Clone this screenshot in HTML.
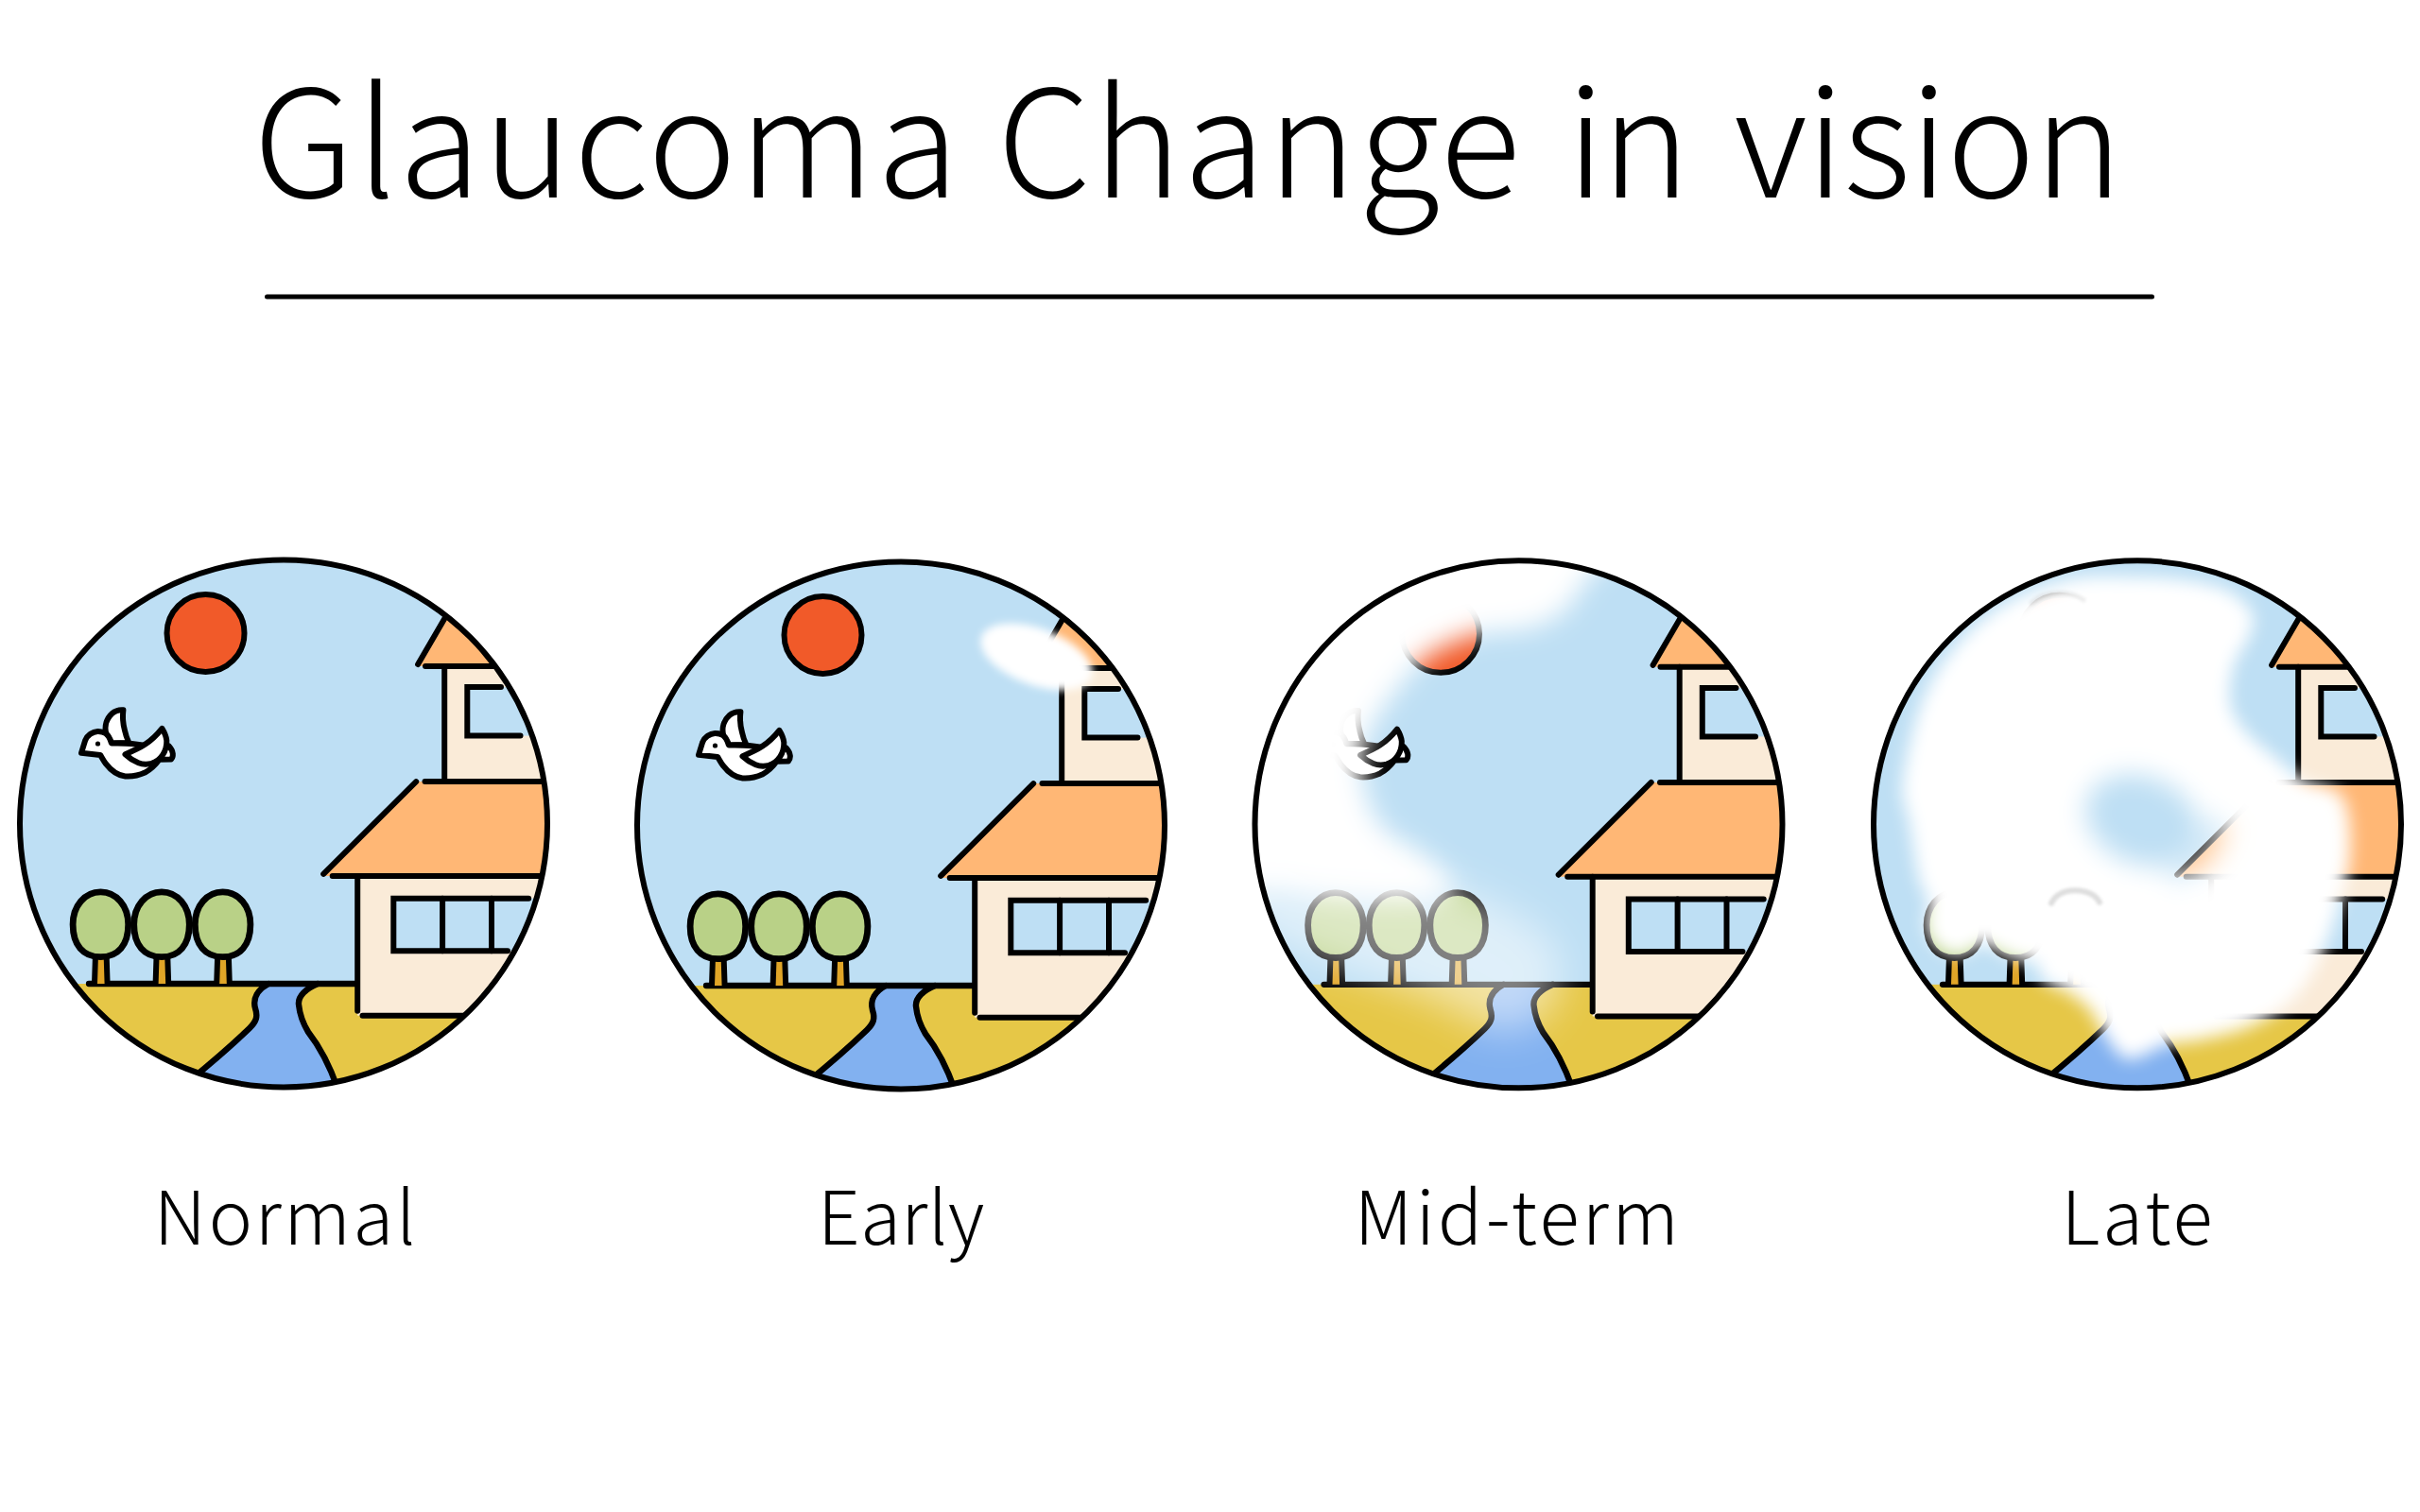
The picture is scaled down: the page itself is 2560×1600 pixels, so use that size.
<!DOCTYPE html>
<html lang="en">
<head>
<meta charset="utf-8">
<title>Glaucoma Change in vision</title>
<style>
html,body{margin:0;padding:0;background:#fff;}
body{width:2560px;height:1600px;overflow:hidden;}
svg{display:block;}
text{font-family:"Noto Sans CJK JP","Liberation Sans",sans-serif;font-weight:300;fill:#000;}
.k{stroke:#000;stroke-width:6;stroke-linecap:round;stroke-linejoin:miter;fill:none;}
</style>
</head>
<body>
<svg width="2560" height="1600" viewBox="0 0 2560 1600">
<defs>
<clipPath id="cc"><circle cx="300" cy="871.5" r="279"/></clipPath>
<filter id="b2" filterUnits="userSpaceOnUse" x="-100" y="460" width="820" height="820"><feGaussianBlur stdDeviation="1.6"/></filter>
<filter id="b4" filterUnits="userSpaceOnUse" x="-100" y="460" width="820" height="820"><feGaussianBlur stdDeviation="4"/></filter>
<filter id="b9" filterUnits="userSpaceOnUse" x="-100" y="460" width="820" height="820"><feGaussianBlur stdDeviation="9"/></filter>
<filter id="b14" filterUnits="userSpaceOnUse" x="-100" y="460" width="820" height="820"><feGaussianBlur stdDeviation="14"/></filter>
<filter id="b20" filterUnits="userSpaceOnUse" x="-100" y="460" width="820" height="820"><feGaussianBlur stdDeviation="20"/></filter>

<g id="tree">
  <path d="M100,1041 L101,1010 L112.6,1010 L113.6,1041" fill="#E0A527" class="k" style="fill:#E0A527"/>
  <path d="M106.4,943.9 C123.1,943.9 135.7,958.7 135.7,978.3 C135.7,1000.0 124.9,1012.7 106.4,1012.7 C87.9,1012.7 77.1,1000.0 77.1,978.3 C77.1,958.7 89.7,943.9 106.4,943.9 Z" class="k" style="fill:#B9D187;stroke-width:6.8"/>
</g>

<g id="scene">
  <!-- sky -->
  <rect x="0" y="560" width="620" height="620" fill="#BEDFF4"/>
  <!-- ground -->
  <rect x="0" y="1041" width="620" height="140" fill="#E6C747"/>
  <!-- river -->
  <path d="M284,1041 C273,1047 267,1056 270,1067 C273,1076 271,1081 264,1088 Q238,1113 200,1144 L363,1170 C353,1135 340,1110 326,1092 C320,1082 317,1073 316,1063 C315,1054 324,1046 336,1041 Z" fill="#82B1F0"/>
  <path class="k" style="stroke-width:6.4" d="M284,1041 C273,1047 267,1056 270,1067 C273,1076 271,1081 264,1088 Q238,1113 200,1144"/>
  <path class="k" style="stroke-width:6.4" d="M336,1041 C324,1046 315,1054 316,1063 C317,1073 320,1082 326,1092 C340,1110 353,1135 363,1170"/>
  <path class="k" style="stroke-width:6.3" d="M94,1041 L378,1041"/>
  <!-- house: upper roof -->
  <path d="M441,705 L500,604 L620,604 L620,705 Z" fill="#FFB775"/>
  <path class="k" d="M442.1,703 L490,620.8"/>
  <!-- upper wall -->
  <rect x="470.2" y="705" width="150" height="122" fill="#FAEBD8"/>
  <rect x="494.3" y="727.1" width="130" height="51.5" fill="#BEDFF4"/>
  <path class="k" d="M450,705 L620,705"/>
  <path class="k" d="M470.2,705 L470.2,827"/>
  <path class="k" d="M530,727.1 L494.3,727.1 L494.3,778.6 L550.5,778.6"/>
  <!-- lower roof -->
  <path d="M440.2,827.1 L620,827.1 L620,927 L340.1,927 Z" fill="#FFB775"/>
  <!-- lower wall -->
  <rect x="378.2" y="927" width="250" height="147.7" fill="#FAEBD8"/>
  <rect x="416.3" y="950.7" width="210" height="55.6" fill="#BEDFF4"/>
  <path class="k" d="M440.2,827.1 L342.2,924.9"/>
  <path class="k" d="M449.5,827.1 L620,827.1"/>
  <path class="k" d="M351.7,927 L620,927"/>
  <path class="k" d="M378.2,927 L378.2,1069.8"/>
  <path class="k" d="M383.5,1074.7 L620,1074.7"/>
  <path class="k" d="M559.2,950.7 L416.3,950.7 L416.3,1006.3 L537,1006.3"/>
  <path class="k" d="M468.1,950.7 V1006.3 M520,950.7 V1006.3"/>
  <!-- trees -->
  <use href="#tree"/>
  <use href="#tree" x="64.6"/>
  <use href="#tree" x="129.2"/>
  <!-- sun -->
  <circle cx="217.5" cy="670" r="41" class="k" style="fill:#F15A29"/>
  <!-- bird -->
  <g stroke="#000" stroke-width="6" stroke-linejoin="round" stroke-linecap="round" fill="#fff">
    <path d="M112.4,777 C110,768 113,760 118.6,755 C122,752 126,751 130.4,751.3 C129.5,759 130,766 132,773 C133,778 134.5,782 136.5,786 L118,786.4 Z"/>
    <path d="M86,796.8 L90.1,783.6 C91.5,780 93,778.5 95.5,776.8 C98,775 100.5,774 103.3,773.9 C106.5,773.8 109.5,774.5 111.7,776 C114.5,778 116.5,781.5 117.9,786.4 C125,786.6 132,786.4 139.4,787.1 C150,788 160,790 170,792 L178.3,789.2 C181,792 182.5,795 182.8,797.5 C183,800 182.5,802 181.1,803.4 L168.6,803.8 C164,810 159,814.5 153.3,817.6 C147,820.5 140,822 132.5,821.5 C124,820.5 117.5,815.5 111.7,807.9 C109.5,805 108,802 106.1,798.9 Z"/>
    <path d="M132.5,798.2 C140,795 147,792 153.3,787.8 C160.5,783 166.5,777 171.4,770.8 C174,775 175.8,779 176.3,783.6 C176.5,789 175,794.5 172.1,798.9 C169,803.5 165,806.5 160.3,807.9 C155.5,809 150.5,808.8 146.4,807.2 C141,805 136.5,802 132.5,798.2 Z"/>
  </g>
  <circle cx="103.5" cy="787" r="2.6" fill="#000"/>
</g>
</defs>

<!-- title -->
<text id="title" y="209" font-size="158" xml:space="preserve"><tspan x="268" letter-spacing="2.8">Glaucoma </tspan><tspan x="1055" letter-spacing="2.5">Change </tspan><tspan x="1657" letter-spacing="-3.3">in </tspan><tspan x="1834.5" letter-spacing="-1.3">vision</tspan></text>
<line x1="282.5" y1="314" x2="2276.5" y2="314" stroke="#000" stroke-width="5" stroke-linecap="round"/>

<!-- circle 1: Normal -->
<g>
  <g clip-path="url(#cc)"><use href="#scene"/></g>
  <circle cx="300" cy="871.5" r="279" class="k"/>
</g>

<!-- circle 2: Early -->
<g transform="translate(653,2)">
  <g clip-path="url(#cc)"><use href="#scene"/>
    <ellipse cx="443.5" cy="693" rx="62" ry="30" transform="rotate(20 443.5 693)" fill="#fff" filter="url(#b4)"/>
  </g>
  <circle cx="300" cy="871.5" r="279" class="k"/>
</g>

<!-- circle 3: Mid-term -->
<g transform="translate(1306.5,0.8)">
  <g clip-path="url(#cc)"><use href="#scene"/>
    <path id="c3a" filter="url(#b14)" fill="#fff" d="M410.0,540.0 C475.3,552.0 382.8,594.0 372.0,612.0 C361.2,630.0 356.0,639.2 345.0,648.0 C334.0,656.8 319.8,661.5 306.0,665.0 C292.2,668.5 275.5,666.2 262.0,669.0 C248.5,671.8 235.7,677.2 225.0,682.0 C214.3,686.8 206.3,691.0 198.0,698.0 C189.7,705.0 181.8,715.7 175.0,724.0 C168.2,732.3 162.3,740.0 157.0,748.0 C151.7,756.0 146.8,764.0 143.0,772.0 C139.2,780.0 135.3,788.2 134.0,796.0 C132.7,803.8 134.0,810.8 135.0,819.0 C136.0,827.2 137.3,837.0 140.0,845.0 C142.7,853.0 146.7,860.5 151.0,867.0 C155.3,873.5 160.2,879.3 166.0,884.0 C171.8,888.7 179.0,890.3 186.0,895.0 C193.0,899.7 201.0,905.8 208.0,912.0 C215.0,918.2 225.7,926.0 228.0,932.0 C230.3,938.0 228.3,944.7 222.0,948.0 C215.7,951.3 205.3,951.7 190.0,952.0 C174.7,952.3 152.5,952.0 130.0,950.0 C107.5,948.0 80.0,945.8 55.0,940.0 C30.0,934.2 -0.8,955.0 -20.0,915.0 C-39.2,875.0 -60.0,762.5 -60.0,700.0 C-60.0,637.5 -98.3,566.7 -20.0,540.0 C58.3,513.3 344.7,528.0 410.0,540.0 Z"/>
    <path id="c3b" filter="url(#b20)" fill="none" stroke="#fff" stroke-opacity="0.5" stroke-width="120" stroke-linecap="round" d="M40.0,925.0 C50.0,930.0 80.0,946.7 100.0,955.0 C120.0,963.3 140.8,968.3 160.0,975.0 C179.2,981.7 199.2,988.8 215.0,995.0 C230.8,1001.2 243.3,1006.2 255.0,1012.0 C266.7,1017.8 280.0,1027.0 285.0,1030.0"/>
  </g>
  <circle cx="300" cy="871.5" r="279" class="k"/>
</g>

<!-- circle 4: Late -->
<g transform="translate(1961,0.8)">
  <mask id="m4" maskUnits="userSpaceOnUse" x="0" y="560" width="620" height="620">
    <path id="b4p" filter="url(#b9)" fill="#fff" d="M300.0,610.0 C318.3,610.0 328.0,610.8 340.0,612.0 C352.0,613.2 362.0,614.5 372.0,617.0 C382.0,619.5 391.7,621.5 400.0,627.0 C408.3,632.5 418.9,642.0 421.9,649.7 C424.9,657.5 421.2,664.6 417.9,673.5 C414.6,682.4 405.3,691.6 402.0,703.2 C398.7,714.8 396.0,731.4 398.0,743.0 C400.0,754.6 405.6,762.8 413.9,772.7 C422.2,782.6 437.4,793.8 447.7,802.5 C458.0,811.2 464.2,818.0 475.8,824.7 C487.4,831.5 508.8,829.9 517.0,843.0 C525.2,856.1 525.8,883.7 525.0,903.4 C524.2,923.1 517.8,942.0 512.0,961.3 C506.2,980.6 498.3,1003.0 490.0,1019.2 C481.7,1035.4 474.0,1047.4 462.0,1058.5 C450.0,1069.6 434.1,1079.1 417.9,1086.0 C401.7,1092.9 379.3,1097.0 365.0,1100.0 C350.7,1103.0 344.5,1100.7 332.0,1104.0 C319.5,1107.3 301.3,1122.0 290.0,1120.0 C278.7,1118.0 270.7,1100.7 264.0,1092.0 C257.3,1083.3 256.1,1075.1 250.0,1068.0 C243.9,1060.9 235.5,1054.6 227.4,1049.6 C219.3,1044.5 207.2,1042.7 201.6,1037.7 C196.0,1032.7 198.6,1023.8 193.7,1019.8 C188.8,1015.8 178.8,1016.2 171.9,1013.9 C165.0,1011.6 158.0,1008.5 152.0,1005.9 C146.0,1003.2 142.4,997.3 136.1,998.0 C129.8,998.7 122.2,1009.2 114.3,1009.9 C106.4,1010.6 95.0,1007.3 88.5,1002.0 C82.0,996.7 77.2,986.5 75.6,978.2 C73.9,969.9 79.8,960.7 78.6,952.4 C77.4,944.1 72.0,942.5 68.7,928.6 C65.4,914.7 61.6,885.8 58.8,869.0 C56.0,852.2 49.6,848.8 51.8,827.7 C54.0,806.6 62.5,766.8 72.0,742.5 C81.5,718.2 93.8,699.6 109.0,682.0 C124.2,664.4 142.8,648.7 163.0,637.0 C183.2,625.3 207.2,616.5 230.0,612.0 C252.8,607.5 281.7,610.0 300.0,610.0 Z"/>
    <ellipse cx="305" cy="867" rx="62" ry="46" transform="rotate(22 305 867)" fill="#000" filter="url(#b14)"/>
    <ellipse cx="362" cy="898" rx="42" ry="20" transform="rotate(-47 362 898)" fill="#000" fill-opacity="0.6" filter="url(#b14)"/>
  </mask>
  <g clip-path="url(#cc)"><use href="#scene"/>
    <rect x="0" y="560" width="620" height="620" fill="#fff" mask="url(#m4)"/>
    <path d="M209,955 C213,946 223,941.5 234,941.5 C246,941.5 256,946 260,954" fill="none" stroke="#000" stroke-opacity="0.13" stroke-width="6" stroke-linecap="round" filter="url(#b2)"/>
    <path d="M188,637 C196,630 206,626.5 217.5,626.5 C228,626.5 236,629 243,634" fill="none" stroke="#000" stroke-opacity="0.07" stroke-width="5" stroke-linecap="round" filter="url(#b2)"/>
  </g>
  <circle cx="300" cy="871.5" r="279" class="k"/>
</g>

<!-- labels -->
<text id="l1" x="302.6" y="1317" font-size="78" text-anchor="middle" letter-spacing="2.7">Normal</text>
<text id="l2" x="953.4" y="1317" font-size="78" text-anchor="middle" letter-spacing="0.5">Early</text>
<text id="l3" x="1606" y="1317" font-size="78" text-anchor="middle" letter-spacing="3.4">Mid-term</text>
<text id="l4" x="2262" y="1317" font-size="78" text-anchor="middle" letter-spacing="3">Late</text>
</svg>
</body>
</html>
